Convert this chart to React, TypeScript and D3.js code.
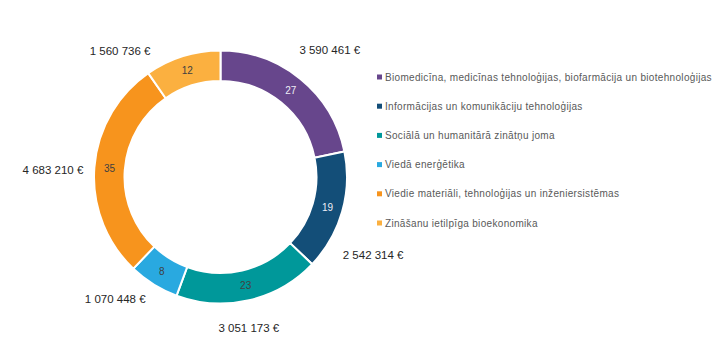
import React from "react";
import * as d3 from "d3";

const categories = [
  "Biomedicīna, medicīnas tehnoloģijas, biofarmācija un biotehnoloģijas",
  "Informācijas un komunikāciju tehnoloģijas",
  "Sociālā un humanitārā zinātņu joma",
  "Viedā enerģētika",
  "Viedie materiāli, tehnoloģijas un inženiersistēmas",
  "Zināšanu ietilpīga bioekonomika",
];
const counts = [27, 19, 23, 8, 35, 12];
const amounts = ["3 590 461 €", "2 542 314 €", "3 051 173 €", "1 070 448 €", "4 683 210 €", "1 560 736 €"];
const colors = ["#67468C", "#134E78", "#00989A", "#29A9E0", "#F7941D", "#FBB040"];
const innerLabelColors = ["#EDEDF5", "#EDEDF5", "#404040", "#404040", "#404040", "#404040"];
// layout nudges for outside amount labels (relative to computed position)
const labelNudge: [number, number][] = [[5, 1], [-6, 33], [-9, -10], [-18, -18], [-3, 6], [-51, 31]];

export default function App() {
  const W = 720, H = 357;
  const cx = 220.5, cy = 177;
  const rOuter = 126.5, rInner = 96;
  const pie = d3.pie<number>().sort(null).value((d) => d)(counts);
  const arc = d3.arc<d3.PieArcDatum<number>>().innerRadius(rInner).outerRadius(rOuter);
  const labelArc = d3.arc<d3.PieArcDatum<number>>().innerRadius(165).outerRadius(165);
  const legendY = d3.scaleLinear().domain([0, 5]).range([77, 223]);
  const font = "'Liberation Sans', Arial, sans-serif";
  return (
    <svg width={W} height={H} style={{ position: "absolute", left: 0, top: 0 }} fontFamily={font}>
      <rect width={W} height={H} fill="#fff" />
      <g transform={`translate(${cx},${cy})`}>
        {pie.map((p, i) => (
          <path key={i} d={arc(p) || ""} fill={colors[i]} stroke="#fff" strokeWidth={2} />
        ))}
        {pie.map((p, i) => {
          const [x, y] = arc.centroid(p);
          return (
            <text key={"in" + i} x={x} y={y} textAnchor="middle" dominantBaseline="central" fontSize={10} fill={innerLabelColors[i]}>
              {counts[i]}
            </text>
          );
        })}
        {pie.map((p, i) => {
          const [x, y] = labelArc.centroid(p);
          return (
            <text key={"out" + i} x={x + labelNudge[i][0]} y={y + labelNudge[i][1]} textAnchor="middle" dominantBaseline="central" fontSize={11.5} fill="#262626">
              {amounts[i]}
            </text>
          );
        })}
      </g>
      <g>
        {categories.map((c, i) => (
          <g key={c} transform={`translate(377,${legendY(i)})`}>
            <rect x={0} y={-2.5} width={5} height={5} fill={colors[i]} />
            <text x={8} y={0} dominantBaseline="central" fontSize={10} fill="#595959" letterSpacing={0.32}>
              {c}
            </text>
          </g>
        ))}
      </g>
    </svg>
  );
}
